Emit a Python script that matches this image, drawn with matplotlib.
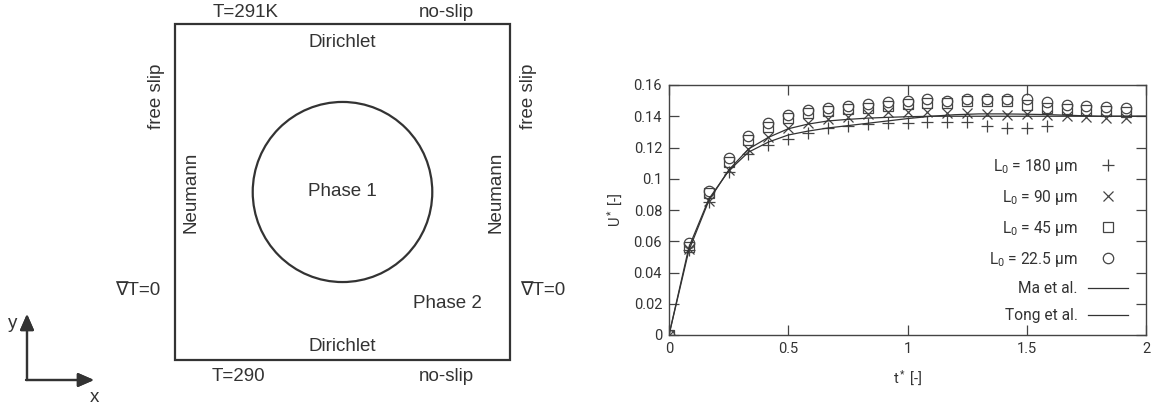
import matplotlib
matplotlib.use("Agg")
import matplotlib.pyplot as plt
from matplotlib.patches import Circle, Rectangle

# simulation results, sampled every 1/12 of t*
t_sim = [0, 0.083, 0.167, 0.25, 0.333, 0.417, 0.5, 0.583, 0.667, 0.75, 0.833, 0.917,
         1.0, 1.083, 1.167, 1.25, 1.333, 1.417, 1.5, 1.583, 1.667, 1.75, 1.833, 1.917]
u_180 = [0, 0.0544, 0.0853, 0.1045, 0.1156, 0.1216, 0.1252, 0.1291, 0.1323, 0.1338,
         0.1348, 0.1355, 0.1355, 0.1360, 0.1366, 0.1360, 0.1340, 0.1327, 0.1327, 0.1340]
u_90 = [0, 0.0548, 0.0858, 0.1056, 0.1188, 0.1265, 0.1323, 0.1359, 0.1380, 0.1397,
        0.1414, 0.1429, 0.1429, 0.1430, 0.1423, 0.1419, 0.1414, 0.1408, 0.1412, 0.1408,
        0.1400, 0.1397, 0.1390, 0.1387]
u_45 = [0, 0.0565, 0.0907, 0.1110, 0.1248, 0.1333, 0.1387, 0.1423, 0.1434, 0.1444,
        0.1455, 0.1468, 0.1480, 0.1487, 0.1487, 0.1498, 0.1500, 0.1497, 0.1470, 0.1450,
        0.1444, 0.1440, 0.1436, 0.1430]
u_22 = [0, 0.0587, 0.0924, 0.1133, 0.1274, 0.1355, 0.1408, 0.1440, 0.1455, 0.1466,
        0.1476, 0.1490, 0.1500, 0.1510, 0.1500, 0.1510, 0.1512, 0.1510, 0.1510, 0.1490,
        0.1470, 0.1466, 0.1460, 0.1450]

# reference curves
t_ref = [0, 0.083, 0.167, 0.25, 0.333, 0.417, 0.5, 0.583, 0.667, 0.75, 0.833, 0.917,
         1.0, 1.1, 1.2, 1.3, 1.4, 1.5, 1.6, 1.7, 1.8, 2.0]
u_ma = [0, 0.054, 0.086, 0.1055, 0.119, 0.1265, 0.132, 0.135, 0.137, 0.138, 0.1388,
        0.1393, 0.1397, 0.140, 0.140, 0.140, 0.140, 0.140, 0.140, 0.140, 0.140, 0.140]
u_tong = [0, 0.056, 0.087, 0.105, 0.117, 0.1235, 0.128, 0.1305, 0.1325, 0.134, 0.1355,
          0.137, 0.1385, 0.140, 0.141, 0.1415, 0.1415, 0.1413, 0.141, 0.1405, 0.140, 0.140]

sim_labels = ["L$_0$ = 180 µm", "L$_0$ = 90 µm", "L$_0$ = 45 µm", "L$_0$ = 22.5 µm"]
ref_labels = ["Ma et al.", "Tong et al."]
x_ticks = [0, 0.5, 1, 1.5, 2]
y_ticks = [0, 0.02, 0.04, 0.06, 0.08, 0.1, 0.12, 0.14, 0.16]
y_ticklabels = ["0", "0.02", "0.04", "0.06", "0.08", "0.1", "0.12", "0.14", "0.16"]

plt.rcParams["mathtext.fontset"] = "custom"
plt.rcParams["mathtext.rm"] = "Roboto"
plt.rcParams["mathtext.it"] = "Roboto:italic"
plt.rcParams["font.family"] = ["Roboto", "DejaVu Sans"]

txt = "#333333"
edge = "#444444"
sketch_font = ["Liberation Sans", "DejaVu Sans"]

fig = plt.figure(figsize=(11.52, 4.07), dpi=100)

# ---- left: domain sketch ----
ax1 = fig.add_axes([175 / 1152, 47 / 407, 335 / 1152, 336 / 407])
ax1.set_xlim(0, 1)
ax1.set_ylim(0, 1)
ax1.axis("off")
ax1.add_patch(Rectangle((0, 0), 1, 1, fill=False, lw=1.6, ec="#333333", clip_on=False))
ax1.add_patch(Circle((0.5, 0.5), 0.268, fill=False, lw=1.6, ec="#333333"))

lf = dict(family=sketch_font, fontsize=13.5, color=txt, ha="center", va="center")
ax1.text(0.210, 1.034, "T=291K", **lf)
ax1.text(0.809, 1.034, "no-slip", **lf)
ax1.text(0.5, 0.946, "Dirichlet", **lf)
ax1.text(-0.054, 0.784, "free slip", rotation=90, **lf)
ax1.text(1.056, 0.784, "free slip", rotation=90, **lf)
ax1.text(0.048, 0.5, "Neumann", rotation=90, **lf)
ax1.text(0.959, 0.5, "Neumann", rotation=90, **lf)
ax1.text(0.5, 0.5, "Phase 1", **lf)
ax1.text(-0.110, 0.208, "∇T=0", **lf)
ax1.text(1.098, 0.208, "∇T=0", **lf)
ax1.text(0.812, 0.167, "Phase 2", **lf)
ax1.text(0.5, 0.040, "Dirichlet", **lf)
ax1.text(0.190, -0.050, "T=290", **lf)
ax1.text(0.809, -0.050, "no-slip", **lf)

# coordinate system arrows
arr = dict(arrowstyle="-|>,head_length=0.8,head_width=0.35", color="#333333",
           lw=1.6, mutation_scale=12, shrinkA=0, shrinkB=0)
fig.add_artist(plt.annotate("", xy=(27, 93), xytext=(27, 27), xycoords="figure pixels",
                            arrowprops=arr))
fig.add_artist(plt.annotate("", xy=(94, 27), xytext=(26, 27), xycoords="figure pixels",
                            arrowprops=arr))
fig.text(13 / 1152, 1 - 323 / 407, "y", family=sketch_font, fontsize=13.5,
         color=txt, ha="center", va="center")
fig.text(94 / 1152, 1 - 397 / 407, "x", family=sketch_font, fontsize=13.5,
         color=txt, ha="center", va="center")

# ---- right: velocity over time ----
ax2 = fig.add_axes([669 / 1152, 72 / 407, 477 / 1152, 250 / 407])
mk = dict(linestyle="none", color=edge, markerfacecolor="none", markeredgewidth=0.9)
ax2.plot(t_sim[:len(u_180)], u_180, marker="+", markersize=9, label=sim_labels[0], **mk)
ax2.plot(t_sim, u_90, marker="x", markersize=7.5, label=sim_labels[1], **mk)
ax2.plot(t_sim, u_45, marker="s", markersize=6.5, label=sim_labels[2], **mk)
ax2.plot(t_sim, u_22, marker="o", markersize=7.5, label=sim_labels[3], **mk)
ax2.plot(t_ref, u_ma, color="#333333", lw=0.9, label=ref_labels[0])
ax2.plot(t_ref, u_tong, color="#333333", lw=0.9, label=ref_labels[1])

ax2.set_xlim(0, 2)
ax2.set_ylim(0, 0.16)
ax2.set_xticks(x_ticks)
ax2.set_xticklabels([f"{v:g}" for v in x_ticks])
ax2.set_yticks(y_ticks)
ax2.set_yticklabels(y_ticklabels)
ax2.tick_params(direction="in", length=7, width=0.9, color=edge, labelsize=10.5,
                labelcolor=txt, top=True, right=True, pad=5)
for s in ax2.spines.values():
    s.set_color(edge)
    s.set_linewidth(1.0)
ax2.set_xlabel("t$^*$ [-]", fontsize=10.5, color=txt, labelpad=9)
ax2.set_ylabel("U$^*$ [-]", fontsize=10.5, color=txt, labelpad=6)

leg = ax2.legend(loc="upper right", bbox_to_anchor=(0.979, 0.745), frameon=False,
                 markerfirst=False, fontsize=11.2, handlelength=2.6, handletextpad=0.65,
                 labelspacing=0.78, borderpad=0)
for t in leg.get_texts():
    t.set_color(txt)

fig.savefig("out.png", dpi=100)
